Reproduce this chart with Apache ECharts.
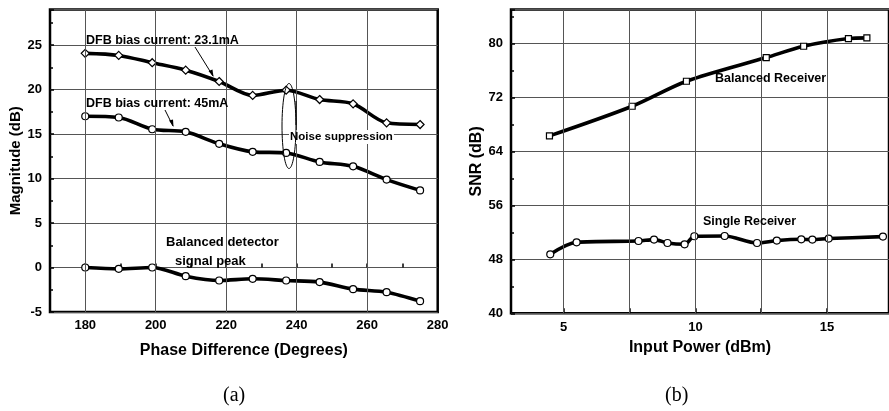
<!DOCTYPE html>
<html><head><meta charset="utf-8">
<script src="https://cdn.jsdelivr.net/npm/echarts@6/dist/echarts.min.js"></script>
<style>html,body{margin:0;padding:0;background:#fff}#c{width:889px;height:411px}</style>
</head><body><div id="c"></div>
<script>
// ---- Panel (a) data ----
const phaseX = [180, 189.5, 199, 208.5, 218, 227.5, 237, 246.5, 256, 265.5, 275];
const bias23 = [24.07, 23.84, 23.02, 22.18, 20.91, 19.34, 19.93, 18.88, 18.4, 16.26, 16.07];
const bias45 = [17.0, 16.86, 15.54, 15.25, 13.9, 13.0, 12.88, 11.87, 11.37, 9.88, 8.67];
const balPeak = [0, -0.15, 0, -0.97, -1.46, -1.27, -1.46, -1.64, -2.43, -2.77, -3.78];
const phaseLabels = [180, 200, 220, 240, 260, 280];
const phaseGrid = [180, 200, 220, 240, 260];
const phaseTicks = [180, 190, 200, 210, 220, 230, 240, 250, 260, 270, 280];

// ---- Panel (b) data ----
const balRxX = [4.46, 7.6, 9.66, 12.69, 14.11, 15.81, 16.51];
const balRxY = [66.28, 70.67, 74.37, 77.88, 79.56, 80.7, 80.8];
const sglRxX = [4.49, 5.49, 7.84, 8.43, 8.94, 9.59, 9.96, 11.11, 12.34, 13.09, 14.02, 14.44, 15.06, 17.12];
const sglRxY = [48.74, 50.52, 50.71, 50.92, 50.41, 50.22, 51.41, 51.45, 50.41, 50.77, 50.96, 50.92, 51.07, 51.36];
const powerLabels = [5, 10, 15];
const powerGrid = [5, 7.5, 10, 12.5, 15];

const FONT = '"Liberation Sans", Arial, sans-serif';
const zip = (xs, ys) => xs.map((x, i) => [x, ys[i]]);
const gridLine = {color: '#555', width: 1, type: 'solid'};

function vGrid(vals) {
  return {
    silent: true, symbol: 'none', label: {show: false},
    lineStyle: {color: '#555', width: 1, type: 'solid'},
    data: vals.map(v => ({xAxis: v}))
  };
}
function lineSeries(name, data, symbol, size, xi, yi, extra) {
  return Object.assign({
    name, type: 'line', data, xAxisIndex: xi, yAxisIndex: yi,
    smooth: 0.3, symbol, symbolSize: size, showAllSymbol: true,
    lineStyle: {color: '#000', width: 3.6},
    itemStyle: {color: '#fff', borderColor: '#000', borderWidth: 1.2},
    z: 3
  }, extra || {});
}

const axisLabelStyle = {color: '#000', fontFamily: FONT, fontWeight: 'bold', fontSize: 13};

const option = {
  animation: false,
  backgroundColor: '#fff',
  grid: [
    {left: 50, top: 9.5, right: 451.3, bottom: 99, show: true, borderColor: '#000', borderWidth: 2.5, backgroundColor: 'transparent'},
    {left: 511, top: 9.5, right: -4, bottom: 97.7, show: true, borderColor: '#000', borderWidth: 2.5, backgroundColor: 'transparent'}
  ],
  xAxis: [
    {type: 'value', gridIndex: 0, min: 170, max: 280,
     axisLine: {show: false}, splitLine: {show: false},
     axisTick: {show: true, inside: true, length: 4, customValues: phaseTicks, lineStyle: {color: '#000', width: 1.5}},
     axisLabel: Object.assign({customValues: phaseLabels, margin: 7}, axisLabelStyle),
     name: 'Phase Difference (Degrees)', nameLocation: 'middle', nameGap: 31,
     nameTextStyle: {color: '#000', fontFamily: FONT, fontWeight: 'bold', fontSize: 16}},
    {type: 'value', gridIndex: 1, min: 3, max: 17.35,
     axisLine: {show: false}, splitLine: {show: false},
     axisTick: {show: true, inside: true, length: 5, customValues: powerGrid, lineStyle: {color: '#000', width: 1.5}},
     axisLabel: Object.assign({customValues: powerLabels, margin: 8}, axisLabelStyle),
     name: 'Input Power (dBm)', nameLocation: 'middle', nameGap: 24,
     nameTextStyle: {color: '#000', fontFamily: FONT, fontWeight: 'bold', fontSize: 16}}
  ],
  yAxis: [
    {type: 'value', gridIndex: 0, min: -5, max: 29, interval: 5,
     axisLine: {show: false},
     splitLine: {show: true, lineStyle: gridLine},
     axisTick: {show: true, inside: true, length: 4, lineStyle: {color: '#000', width: 1.5}},
     minorTick: {show: true, splitNumber: 2, length: 3, lineStyle: {color: '#000', width: 1.5}},
     axisLabel: Object.assign({showMaxLabel: false, margin: 8}, axisLabelStyle),
     name: 'Magnitude (dB)', nameLocation: 'middle', nameGap: 27, nameRotate: 90,
     nameTextStyle: {color: '#000', fontFamily: FONT, fontWeight: 'bold', fontSize: 15}},
    {type: 'value', gridIndex: 1, min: 40, max: 85, interval: 8,
     axisLine: {show: false},
     splitLine: {show: true, lineStyle: gridLine},
     axisTick: {show: true, inside: true, length: 4, lineStyle: {color: '#000', width: 1.5}},
     minorTick: {show: true, splitNumber: 2, length: 3, lineStyle: {color: '#000', width: 1.5}},
     axisLabel: Object.assign({showMaxLabel: false, margin: 8}, axisLabelStyle),
     name: 'SNR (dB)', nameLocation: 'middle', nameGap: 25, nameRotate: 90,
     nameTextStyle: {color: '#000', fontFamily: FONT, fontWeight: 'bold', fontSize: 16}}
  ],
  series: [
    lineSeries('DFB bias current: 23.1mA', zip(phaseX, bias23), 'diamond', 8, 0, 0, {markLine: vGrid(phaseGrid)}),
    lineSeries('DFB bias current: 45mA', zip(phaseX, bias45), 'circle', 7, 0, 0),
    lineSeries('Balanced detector signal peak', zip(phaseX, balPeak), 'circle', 7, 0, 0),
    lineSeries('Balanced Receiver', zip(balRxX, balRxY), 'rect', 6, 1, 1, {markLine: vGrid(powerGrid)}),
    lineSeries('Single Receiver', zip(sglRxX, sglRxY), 'circle', 7, 1, 1)
  ],
  graphic: [
    {type: 'text', left: 86, top: 34, z: 10, style: {text: 'DFB bias current: 23.1mA', font: 'bold 12.5px ' + FONT, fill: '#000'}},
    {type: 'text', left: 86, top: 97, z: 10, style: {text: 'DFB bias current: 45mA', font: 'bold 12.5px ' + FONT, fill: '#000'}},
    {type: 'text', left: 289, top: 130, z: 10, style: {text: 'Noise suppression', font: 'bold 11.5px ' + FONT, fill: '#000', backgroundColor: '#fff', padding: [1, 1]}},
    {type: 'text', left: 166, top: 236, z: 10, style: {text: 'Balanced detector', font: 'bold 13px ' + FONT, fill: '#000'}},
    {type: 'text', left: 175, top: 255, z: 10, style: {text: 'signal peak', font: 'bold 13px ' + FONT, fill: '#000'}},
    {type: 'text', left: 715, top: 72, z: 10, style: {text: 'Balanced Receiver', font: 'bold 12.5px ' + FONT, fill: '#000'}},
    {type: 'text', left: 703, top: 215, z: 10, style: {text: 'Single Receiver', font: 'bold 12.5px ' + FONT, fill: '#000'}},
    {type: 'text', left: 223, top: 386, z: 10, style: {text: '(a)', font: '20px "Liberation Serif", "Times New Roman", serif', fill: '#000'}},
    {type: 'text', left: 665, top: 386, z: 10, style: {text: '(b)', font: '20px "Liberation Serif", "Times New Roman", serif', fill: '#000'}},
    // arrows
    {type: 'line', z: 10, shape: {x1: 195, y1: 47, x2: 213, y2: 76}, style: {stroke: '#000', lineWidth: 1}},
    {type: 'polygon', z: 10, shape: {points: [[213.5, 77], [208.5, 71], [212.5, 69.5]]}, style: {fill: '#000'}},
    {type: 'line', z: 10, shape: {x1: 165, y1: 110, x2: 173, y2: 126}, style: {stroke: '#000', lineWidth: 1}},
    {type: 'polygon', z: 10, shape: {points: [[173.5, 127], [169, 120.5], [173, 119.5]]}, style: {fill: '#000'}},
    // ellipse
    {type: 'ellipse', z: 10, shape: {cx: 289, cy: 126, rx: 7, ry: 42.5}, style: {stroke: '#000', fill: 'none', lineWidth: 1}},
    {type: 'line', z: 10, shape: {x1: 296, y1: 101, x2: 296, y2: 125}, style: {stroke: '#000', lineWidth: 1}}
  ]
};

const chart = echarts.init(document.getElementById('c'), null, {renderer: 'canvas'});
chart.setOption(option);
</script>
</body></html>
